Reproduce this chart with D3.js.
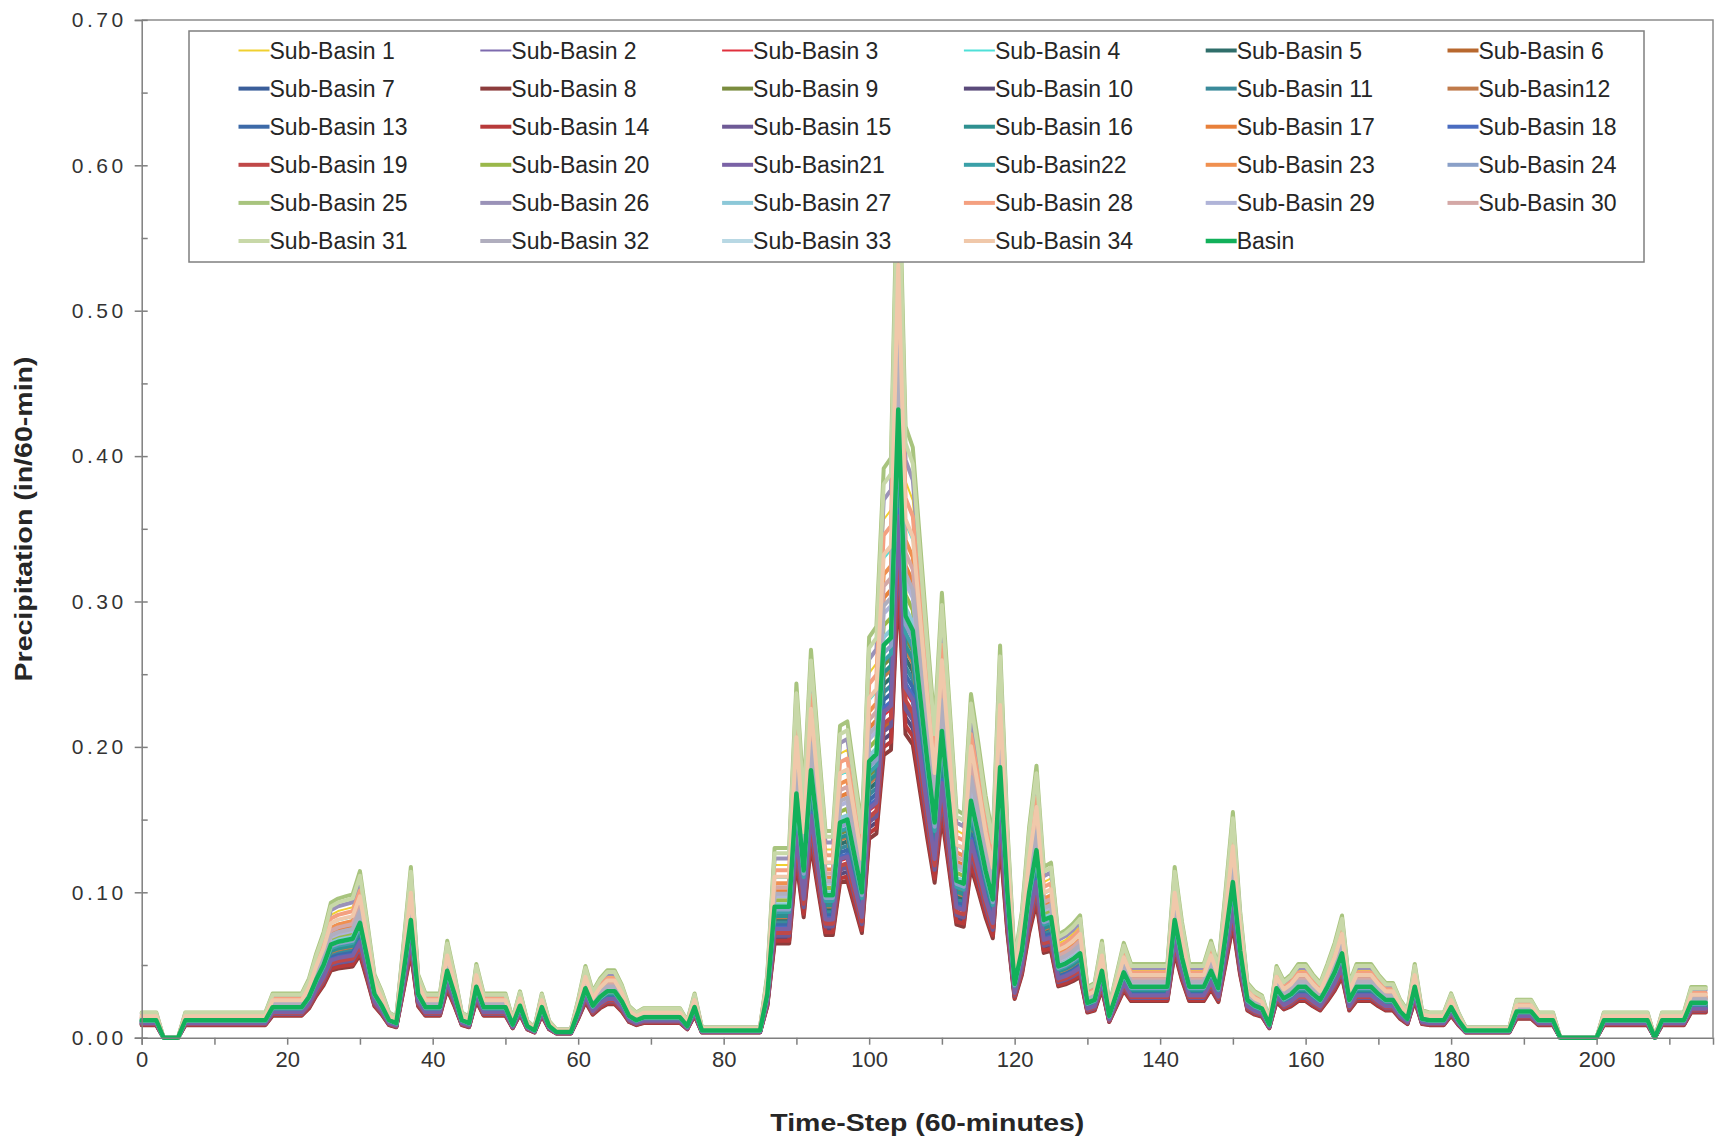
<!DOCTYPE html>
<html lang="en">
<head>
<meta charset="UTF-8">
<title>Precipitation by Sub-Basin</title>
<script src="https://d3js.org/d3.v7.min.js"></script>
<style>
  body { margin: 0; background: #fff; }
  svg { display: block; font-family: "Liberation Sans", Arial, sans-serif; }
  .axis path, .axis line { stroke: #7f7f7f; stroke-width: 1.5px; }
  .axis text { fill: #333; font-size: 22px; }
  .y-axis text { font-size: 21px; letter-spacing: 3.5px; }
  .series { fill: none; stroke-linejoin: round; stroke-linecap: round; }
  .legend text { font-size: 23px; fill: #262626; }
  .title { font-size: 24px; font-weight: bold; fill: #262626; }
</style>
</head>
<body>
<svg width="1717" height="1140"></svg>
<script>
// basin-average precipitation (in/60-min), one value per time step 0..215
const basinValues = [
  0.012, 0.012, 0.012, 0, 0, 0, 0.012, 0.012, 0.012, 0.012,
  0.012, 0.012, 0.012, 0.012, 0.012, 0.012, 0.012, 0.012, 0.021, 0.021,
  0.021, 0.021, 0.021, 0.028, 0.040, 0.050, 0.064, 0.066, 0.067, 0.068,
  0.079, 0.055, 0.030, 0.022, 0.012, 0.010, 0.045, 0.081, 0.030, 0.021,
  0.021, 0.021, 0.046, 0.030, 0.012, 0.010, 0.035, 0.021, 0.021, 0.021,
  0.021, 0.009, 0.022, 0.008, 0.005, 0.021, 0.008, 0.004, 0.004, 0.004,
  0.018, 0.034, 0.022, 0.028, 0.032, 0.032, 0.025, 0.015, 0.012, 0.014,
  0.014, 0.014, 0.014, 0.014, 0.014, 0.008, 0.021, 0.005, 0.005, 0.005,
  0.005, 0.005, 0.005, 0.005, 0.005, 0.005, 0.030, 0.090, 0.090, 0.090,
  0.168, 0.115, 0.184, 0.140, 0.098, 0.098, 0.148, 0.150, 0.125, 0.100,
  0.190, 0.195, 0.270, 0.275, 0.432, 0.290, 0.280, 0.235, 0.190, 0.148,
  0.211, 0.160, 0.108, 0.106, 0.163, 0.140, 0.115, 0.095, 0.186, 0.100,
  0.037, 0.060, 0.100, 0.129, 0.081, 0.083, 0.049, 0.051, 0.054, 0.058,
  0.024, 0.026, 0.046, 0.015, 0.030, 0.045, 0.035, 0.035, 0.035, 0.035,
  0.035, 0.035, 0.081, 0.055, 0.035, 0.035, 0.035, 0.046, 0.034, 0.070,
  0.107, 0.060, 0.026, 0.022, 0.020, 0.009, 0.034, 0.027, 0.030, 0.035,
  0.035, 0.030, 0.026, 0.035, 0.045, 0.058, 0.026, 0.035, 0.035, 0.035,
  0.030, 0.026, 0.026, 0.018, 0.013, 0.035, 0.013, 0.012, 0.012, 0.012,
  0.021, 0.012, 0.005, 0.005, 0.005, 0.005, 0.005, 0.005, 0.005, 0.018,
  0.018, 0.018, 0.012, 0.012, 0.012, 0, 0, 0, 0, 0,
  0, 0.012, 0.012, 0.012, 0.012, 0.012, 0.012, 0.012, 0, 0.012,
  0.012, 0.012, 0.012, 0.024, 0.024, 0.024
];

const subBasinNames = [
  "Sub-Basin 1", "Sub-Basin 2", "Sub-Basin 3", "Sub-Basin 4", "Sub-Basin 5", "Sub-Basin 6",
  "Sub-Basin 7", "Sub-Basin 8", "Sub-Basin 9", "Sub-Basin 10", "Sub-Basin 11", "Sub-Basin12",
  "Sub-Basin 13", "Sub-Basin 14", "Sub-Basin 15", "Sub-Basin 16", "Sub-Basin 17", "Sub-Basin 18",
  "Sub-Basin 19", "Sub-Basin 20", "Sub-Basin21", "Sub-Basin22", "Sub-Basin 23", "Sub-Basin 24",
  "Sub-Basin 25", "Sub-Basin 26", "Sub-Basin 27", "Sub-Basin 28", "Sub-Basin 29", "Sub-Basin 30",
  "Sub-Basin 31", "Sub-Basin 32", "Sub-Basin 33", "Sub-Basin 34"
];

// each sub-basin's depth relative to the basin average
const subBasinRatio = [
  1.32, 0.86, 0.82, 1.22, 0.90, 0.79, 0.83, 0.72, 0.95, 0.76,
  0.88, 0.92, 0.86, 0.74, 0.78, 0.93, 1.12, 0.84, 0.80, 1.05,
  0.83, 0.96, 1.18, 0.98, 1.45, 1.37, 1.02, 1.28, 1.08, 1.15,
  1.41, 1.10, 1.00, 1.23
];

const subBasinColors = [
  "#f0d030", "#7d6aae", "#e0303c", "#4fe0d8", "#2f6e6a", "#b8682e",
  "#3a5e9a", "#8c3c3c", "#7a8c3e", "#5a4a7a", "#3a8a9a", "#c07a4a",
  "#3d6aa8", "#b83a3a", "#6e5a96", "#2e9090", "#e8803a", "#4a6cc0",
  "#c04848", "#9ab84a", "#7a62a6", "#3aa0a8", "#f09050", "#8aa0c8",
  "#a8c47e", "#9a92b8", "#8cc8d8", "#f4a080", "#b0b4d8", "#d4a8a6",
  "#c8d8a8", "#b0aebe", "#b8d8e4", "#f0c8aa"
];

const basinColor = "#12b05a";

const series = subBasinNames.map((name, i) => ({
  name: name,
  color: subBasinColors[i],
  width: i < 4 ? 2 : 4,
  values: basinValues.map(v => v * subBasinRatio[i])
}));
series.push({ name: "Basin", color: basinColor, width: 4.5, values: basinValues });

const plot = { left: 141.7, right: 1713, top: 19.9, bottom: 1037.7 };

const x = d3.scaleLinear().domain([0, 216]).range([plot.left, plot.right]);
const y = d3.scaleLinear().domain([0, 0.7]).range([plot.bottom, plot.top]);

const svg = d3.select("svg");

// frame (top and right edges)
svg.append("path")
  .attr("d", `M${plot.left},${plot.top}H${plot.right}V${plot.bottom}`)
  .attr("fill", "none")
  .attr("stroke", "#8c8c8c")
  .attr("stroke-width", 1.5);

const line = d3.line()
  .x((d, i) => x(i))
  .y(d => y(d));

svg.append("g")
  .selectAll("path")
  .data(series)
  .enter().append("path")
  .attr("class", "series")
  .attr("stroke", d => d.color)
  .attr("stroke-width", d => d.width)
  .attr("d", d => line(d.values));

// axes
const xAxis = d3.axisBottom(x)
  .tickValues(d3.range(0, 211, 10))
  .tickFormat(d => d % 20 === 0 ? d : "")
  .tickSize(7)
  .tickPadding(7);

svg.append("g")
  .attr("class", "axis x-axis")
  .attr("transform", `translate(0,${plot.bottom})`)
  .call(xAxis);

const yAxis = d3.axisLeft(y)
  .tickValues(d3.range(0, 0.71, 0.1))
  .tickFormat(d3.format(".2f"))
  .tickSize(7)
  .tickPadding(8);

svg.append("g")
  .attr("class", "axis y-axis")
  .attr("transform", `translate(${plot.left},0)`)
  .call(yAxis);

const yInner = d3.axisRight(y)
  .tickValues(d3.range(0, 0.71, 0.05))
  .tickFormat("")
  .tickSize(6);

svg.append("g")
  .attr("class", "axis")
  .attr("transform", `translate(${plot.left},0)`)
  .call(yInner)
  .call(g => g.select(".domain").remove());

// axis titles
svg.append("text")
  .attr("class", "title")
  .attr("transform", "translate(24,519) rotate(-90)")
  .attr("text-anchor", "middle")
  .attr("dy", "0.35em")
  .attr("textLength", 325)
  .attr("lengthAdjust", "spacingAndGlyphs")
  .text("Precipitation (in/60-min)");

svg.append("text")
  .attr("class", "title")
  .attr("x", (plot.left + plot.right) / 2)
  .attr("y", 1123)
  .attr("text-anchor", "middle")
  .attr("dy", "0.35em")
  .attr("textLength", 314)
  .attr("lengthAdjust", "spacingAndGlyphs")
  .text("Time-Step (60-minutes)");

// legend
const legend = svg.append("g").attr("class", "legend");

legend.append("rect")
  .attr("x", 189)
  .attr("y", 31)
  .attr("width", 1455)
  .attr("height", 231)
  .attr("fill", "#fff")
  .attr("stroke", "#7f7f7f")
  .attr("stroke-width", 1.5);

const item = legend.selectAll(".item")
  .data(series)
  .enter().append("g")
  .attr("class", "item")
  .attr("transform", (d, i) => `translate(${238.5 + (i % 6) * 241.8},${50.5 + Math.floor(i / 6) * 38.1})`);

item.append("line")
  .attr("x1", 0)
  .attr("x2", 31)
  .attr("stroke", d => d.color)
  .attr("stroke-width", d => d.width);

item.append("text")
  .attr("x", 31)
  .attr("dy", "0.35em")
  .text(d => d.name);
</script>
</body>
</html>
